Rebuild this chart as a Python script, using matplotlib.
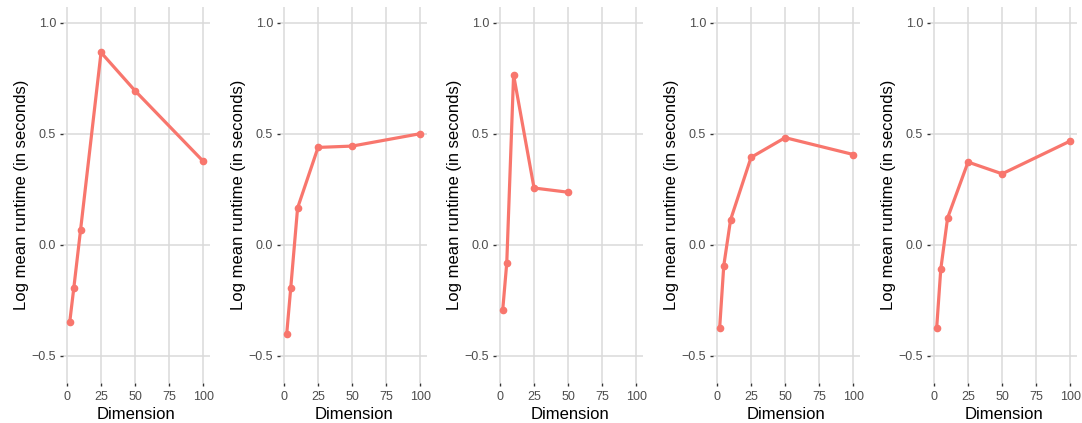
import numpy as np
import matplotlib.pyplot as plt

plt.rcParams['font.family'] = ['Liberation Sans', 'DejaVu Sans']

# data: dimension vs log mean runtime, one list per panel
dims = [2, 5, 10, 25, 50, 100]
runtime_1 = [-0.350, -0.196, 0.068, 0.867, 0.694, 0.376]
runtime_2 = [-0.403, -0.193, 0.166, 0.439, 0.445, 0.501]
runtime_3 = [-0.296, -0.081, 0.766, 0.256, 0.237]
runtime_4 = [-0.373, -0.094, 0.113, 0.394, 0.483, 0.407]
runtime_5 = [-0.374, -0.110, 0.121, 0.373, 0.320, 0.468]
panels = [runtime_1, runtime_2, runtime_3, runtime_4, runtime_5]

xticks = [0, 25, 50, 75, 100]
yticks = [-0.5, 0.0, 0.5, 1.0]
ytick_labels = ['\u22120.5', '0.0', '0.5', '1.0']

LineColor = '#F8766D'
GridColor = '#DADADA'

W, H = 1082, 423
fig = plt.figure(figsize=(W / 100, H / 100), dpi=100)

lefts = [63, 280, 496, 713, 930]
ax_w = 147
bottom, top = 40, 416

for left, vals in zip(lefts, panels):
    ax = fig.add_axes([left / W, bottom / H, ax_w / W, (top - bottom) / H])
    ax.plot(dims[:len(vals)], vals, color=LineColor, lw=2.3,
            marker='o', ms=4.5, zorder=3)
    ax.set_xlim(-2.9, 104.9)
    ax.set_ylim(-0.623, 1.072)
    ax.set_xticks(xticks)
    ax.set_yticks(yticks)
    ax.set_yticklabels(ytick_labels)
    ax.grid(True, color=GridColor, lw=1.1)
    ax.set_axisbelow(True)
    for s in ax.spines.values():
        s.set_visible(False)
    ax.tick_params(length=2.5, width=1, color='#333333', labelcolor='#4D4D4D',
                   labelsize=9, pad=2.5)
    ax.tick_params(axis='x', pad=3.5)
    ax.set_xlabel('Dimension', fontsize=12, labelpad=2.5)
    ax.set_ylabel('Log mean runtime (in seconds)', fontsize=12, labelpad=2)

plt.savefig('out.png', dpi=100)
